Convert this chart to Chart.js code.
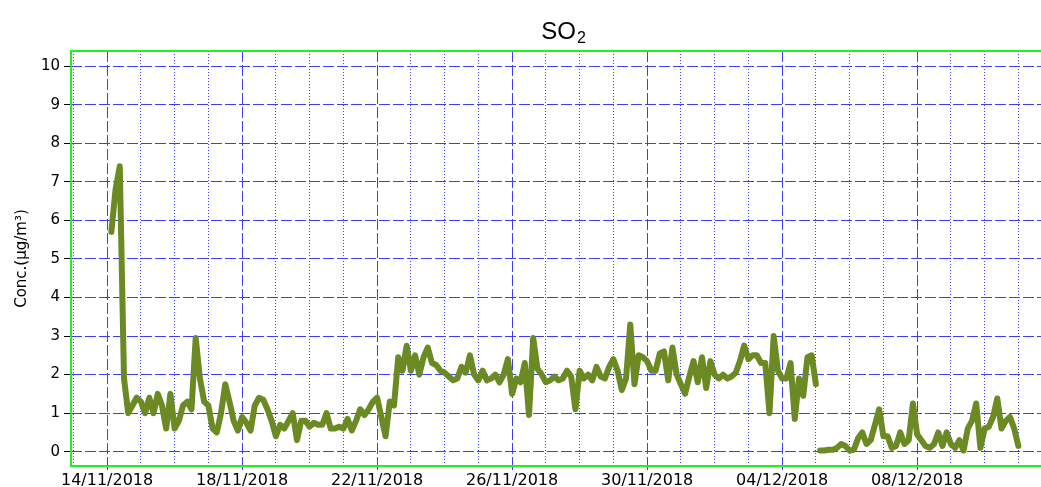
<!DOCTYPE html>
<html>
<head>
<meta charset="utf-8">
<script src="https://cdn.jsdelivr.net/npm/chart.js@4/dist/chart.umd.min.js"></script>
<style>
  body { margin: 0; background: #fff; }
  canvas { display: block; }
</style>
</head>
<body>
<canvas id="so2Chart" width="1041" height="487"></canvas>
<script>
// SO2 concentration, 3-hourly samples (µg/m3)
// days are counted from 14/11/2018 00:00
const stepDays = 0.125;
const novStartDay = 0.125;   // 14/11 03:00
const decStartDay = 21.125;  // 05/12 03:00 (after the gap)

const so2Nov = [
  5.7, 6.8, 7.4, 1.9, 1.0, 1.2, 1.4, 1.3,         // 14/11
  1.0, 1.4, 1.0, 1.5, 1.2, 0.6, 1.5, 0.6,         // 15/11
  0.8, 1.2, 1.3, 1.1, 2.95, 1.9, 1.3, 1.2,        // 16/11
  0.6, 0.5, 1.0, 1.75, 1.3, 0.8, 0.55, 0.9,       // 17/11
  0.75, 0.55, 1.2, 1.4, 1.35, 1.1, 0.8, 0.4,      // 18/11
  0.7, 0.6, 0.8, 1.0, 0.3, 0.8, 0.8, 0.65,        // 19/11
  0.75, 0.7, 0.7, 1.0, 0.6, 0.6, 0.65, 0.6,       // 20/11
  0.85, 0.55, 0.8, 1.1, 0.95, 1.1, 1.3, 1.4,      // 21/11
  0.9, 0.4, 1.3, 1.2, 2.45, 2.1, 2.75, 2.1,       // 22/11
  2.5, 2.0, 2.45, 2.7, 2.3, 2.25, 2.1, 2.05,      // 23/11
  1.95, 1.85, 1.9, 2.2, 2.05, 2.5, 2.0, 1.85,     // 24/11
  2.1, 1.85, 1.9, 2.0, 1.8, 2.0, 2.4, 1.5,        // 25/11
  1.9, 1.8, 2.3, 0.95, 2.95, 2.15, 2.0, 1.8,      // 26/11
  1.85, 1.95, 1.85, 1.9, 2.1, 1.95, 1.1, 2.1,     // 27/11
  1.9, 2.0, 1.85, 2.2, 1.95, 1.9, 2.2, 2.4,       // 28/11
  2.1, 1.6, 1.9, 3.3, 1.75, 2.5, 2.45, 2.35,      // 29/11
  2.1, 2.1, 2.55, 2.6, 1.85, 2.7, 2.0, 1.75,      // 30/11
  1.5, 1.95, 2.35, 1.8, 2.45, 1.65, 2.35, 2.0,    // 01/12
  1.9, 2.0, 1.9, 1.95, 2.05, 2.35, 2.75, 2.4,     // 02/12
  2.5, 2.5, 2.3, 2.3, 1.0, 3.0, 2.1, 1.9,         // 03/12
  1.9, 2.3, 0.85, 1.9, 1.45, 2.45, 2.5, 1.75      // 04/12
];

const so2Dec = [
  0.03, 0.03, 0.05, 0.05, 0.1, 0.2, 0.15, 0.03,   // 05/12
  0.05, 0.35, 0.5, 0.2, 0.3, 0.7, 1.1, 0.4,       // 06/12
  0.4, 0.1, 0.15, 0.5, 0.2, 0.3, 1.25, 0.45,      // 07/12
  0.3, 0.15, 0.1, 0.2, 0.5, 0.15, 0.5, 0.2,       // 08/12
  0.1, 0.3, 0.03, 0.6, 0.8, 1.25, 0.1, 0.6,       // 09/12
  0.65, 0.9, 1.38, 0.6, 0.8, 0.9, 0.6, 0.15       // 10/12
];

// one label every 4 days
const dateLabels = ['14/11/2018', '18/11/2018', '22/11/2018', '26/11/2018',
                    '30/11/2018', '04/12/2018', '08/12/2018'];

const lineColor = '#6b8a23';
const gridBlue = '#3c3cff';

const toPoints = (vals, start) => vals.map((v, i) => ({ x: start + i * stepDays, y: v }));

// title "SO2" with a real subscript
const titlePlugin = {
  id: 'so2Title',
  afterDraw(chart) {
    const ctx = chart.ctx;
    const cx = (chart.chartArea.left + chart.chartArea.right) / 2 + 7;
    ctx.save();
    ctx.fillStyle = '#000';
    ctx.textBaseline = 'alphabetic';
    ctx.font = '24px "Liberation Sans", Arial, sans-serif';
    const w = ctx.measureText('SO').width;
    ctx.font = '16px "Liberation Sans", Arial, sans-serif';
    const w2 = ctx.measureText('2').width;
    const x0 = cx - (w + w2) / 2;
    ctx.font = '24px "Liberation Sans", Arial, sans-serif';
    ctx.fillText('SO', x0, 39);
    ctx.font = '16px "Liberation Sans", Arial, sans-serif';
    ctx.fillText('2', x0 + w + 1, 43);
    ctx.restore();
  }
};

// green frame round the plot area
const framePlugin = {
  id: 'greenFrame',
  afterDraw(chart) {
    const { ctx, chartArea: a } = chart;
    ctx.save();
    ctx.strokeStyle = '#22ee22';
    ctx.lineWidth = 2;
    ctx.beginPath();
    ctx.moveTo(chart.width, a.top);
    ctx.lineTo(a.left, a.top);
    ctx.lineTo(a.left, a.bottom);
    ctx.lineTo(chart.width, a.bottom);
    ctx.stroke();
    ctx.restore();
  }
};

const isMajorX = v => Math.round(v) % 4 === 0;
const isMajorY = v => Number.isInteger(v);

const lineStyle = {
  borderColor: lineColor,
  borderWidth: 6,
  pointRadius: 0,
  tension: 0,
  borderJoinStyle: 'round',
  borderCapStyle: 'round'
};

new Chart(document.getElementById('so2Chart'), {
  type: 'line',
  data: {
    datasets: [
      { label: 'SO2', data: toPoints(so2Nov, novStartDay), ...lineStyle },
      { label: 'SO2 ', data: toPoints(so2Dec, decStartDay), ...lineStyle }
    ]
  },
  options: {
    responsive: false,
    animation: false,
    layout: { padding: { top: 51, left: 0, right: 0, bottom: 0 } },
    plugins: {
      legend: { display: false },
      tooltip: { enabled: false }
    },
    scales: {
      x: {
        type: 'linear',
        min: -1.07,
        max: 27.67,
        afterFit: s => { s.height = 21; },
        border: {
          display: false,
          dash: ctx => (ctx.tick && isMajorX(ctx.tick.value)) ? [11, 3] : [1, 2]
        },
        grid: {
          color: gridBlue,
          lineWidth: 1,
          tickLength: 4,
          tickColor: ctx => (ctx.tick && isMajorX(ctx.tick.value)) ? gridBlue : 'rgba(0,0,0,0)'
        },
        ticks: {
          stepSize: 1,
          includeBounds: false,
          autoSkip: false,
          maxRotation: 0,
          padding: 1,
          color: '#000',
          font: { family: 'DejaVu Sans', size: 16 },
          callback: v => isMajorX(v) ? dateLabels[Math.round(v) / 4] : ''
        }
      },
      y: {
        min: -0.37,
        max: 10.39,
        afterFit: s => { s.width = 71; },
        border: {
          display: false,
          dash: ctx => (ctx.tick && isMajorY(ctx.tick.value)) ? [11, 3] : [1, 2]
        },
        grid: {
          color: gridBlue,
          lineWidth: 1,
          tickLength: 7,
          tickColor: ctx => (ctx.tick && isMajorY(ctx.tick.value)) ? '#000' : 'rgba(0,0,0,0)'
        },
        ticks: {
          stepSize: 0.5,
          includeBounds: false,
          padding: 4,
          color: '#000',
          font: { family: 'DejaVu Sans', size: 15 },
          callback: v => isMajorY(v) ? v : ''
        },
        title: {
          display: true,
          text: 'Conc.(µg/m³)',
          color: '#000',
          font: { family: 'DejaVu Sans', size: 15 },
          padding: { top: 13, bottom: 0 }
        }
      }
    }
  },
  plugins: [titlePlugin, framePlugin]
});
</script>
</body>
</html>
